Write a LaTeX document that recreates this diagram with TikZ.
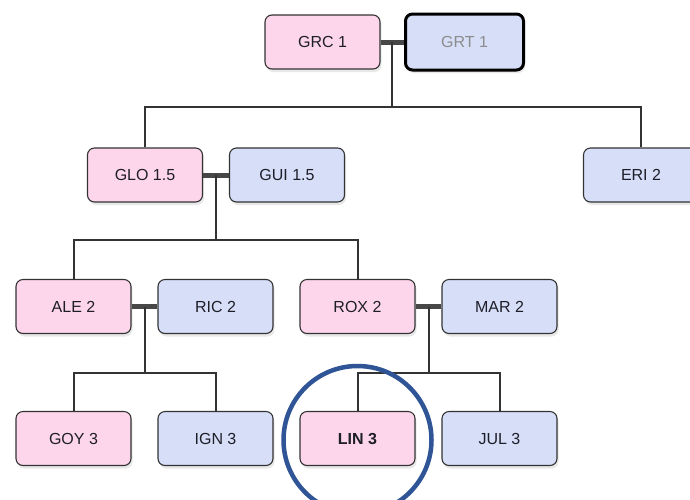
\documentclass[tikz,border=0pt]{standalone}
\usepackage{fontspec}
\setmainfont{Liberation Sans}
\usetikzlibrary{shadows,calc}
\definecolor{pinkfill}{HTML}{FED6EC}
\definecolor{bluefill}{HTML}{D6DEF8}
\definecolor{boxline}{HTML}{333333}
\definecolor{txt}{HTML}{1E1E28}
\definecolor{ringblue}{HTML}{2F5597}
\begin{document}
\begin{tikzpicture}[x=1pt,y=-1pt,
  person/.style={draw=boxline, line width=1.1pt, rounded corners=7pt,
    minimum width=115pt, minimum height=54pt, inner sep=0pt,
    font=\fontsize{16}{19}\selectfont, text=txt,
    drop shadow={shadow xshift=1.5pt, shadow yshift=-3pt, opacity=0.18}},
  fem/.style={person, fill=pinkfill},
  mal/.style={person, fill=bluefill},
  link/.style={draw=boxline, line width=2pt},
  bar/.style={draw=boxline!90, line width=5pt}]
\useasboundingbox[fill=white] (0,0) rectangle (690,499);
% generation 1
\node[fem] (GRC) at (322.5,42) {GRC 1};
\node[mal, line width=3pt, draw=black, minimum width=118pt, minimum height=56pt, text=black!45] (GRT) at (464.5,42) {GRT 1};
% generation 2
\node[fem] (GLO) at (145,175) {GLO 1.5};
\node[mal] (GUI) at (287,175) {GUI 1.5};
\node[mal] (ERI) at (641,175) {ERI 2};
% generation 3
\node[fem] (ALE) at (73.5,306.5) {ALE 2};
\node[mal] (RIC) at (215.5,306.5) {RIC 2};
\node[fem] (ROX) at (357.5,306.5) {ROX 2};
\node[mal] (MAR) at (499.5,306.5) {MAR 2};
% generation 4
\node[fem] (GOY) at (73.5,438.5) {GOY 3};
\node[mal] (IGN) at (215.5,438.5) {IGN 3};
\node[fem, font=\fontsize{16}{19}\selectfont\bfseries] (LIN) at (357.5,438.5) {LIN 3};
\node[mal] (JUL) at (499.5,438.5) {JUL 3};
% couple bars and junctions
\coordinate (m1) at ($(GRC.east)!0.5!(GRT.west)$);
\coordinate (j1) at (m1 |- 0,107);
\coordinate (m2) at ($(GLO.east)!0.5!(GUI.west)$);
\coordinate (j2) at (m2 |- 0,240);
\coordinate (m3) at ($(ALE.east)!0.5!(RIC.west)$);
\coordinate (j3) at (m3 |- 0,373);
\coordinate (m4) at ($(ROX.east)!0.5!(MAR.west)$);
\coordinate (j4) at (m4 |- 0,373);
\draw[bar] (GRC.east) -- (GRT.west);
\draw[bar] (GLO.east) -- (GUI.west);
\draw[bar] (ALE.east) -- (RIC.west);
\draw[bar] (ROX.east) -- (MAR.west);
\draw[link] (m1) -- (j1);
\draw[link] (GLO.north) |- (j1) -| (ERI.north);
\draw[link] (m2) -- (j2);
\draw[link] (ALE.north) |- (j2) -| (ROX.north);
\draw[link] (m3) -- (j3);
\draw[link] (GOY.north) |- (j3) -| (IGN.north);
\draw[link] (m4) -- (j4);
\draw[link] (LIN.north) |- (j4) -| (JUL.north);
% highlight ring
\draw[ringblue, line width=4.5pt] (LIN.center) ++(0,1.5) circle (74pt);
\end{tikzpicture}
\end{document}
